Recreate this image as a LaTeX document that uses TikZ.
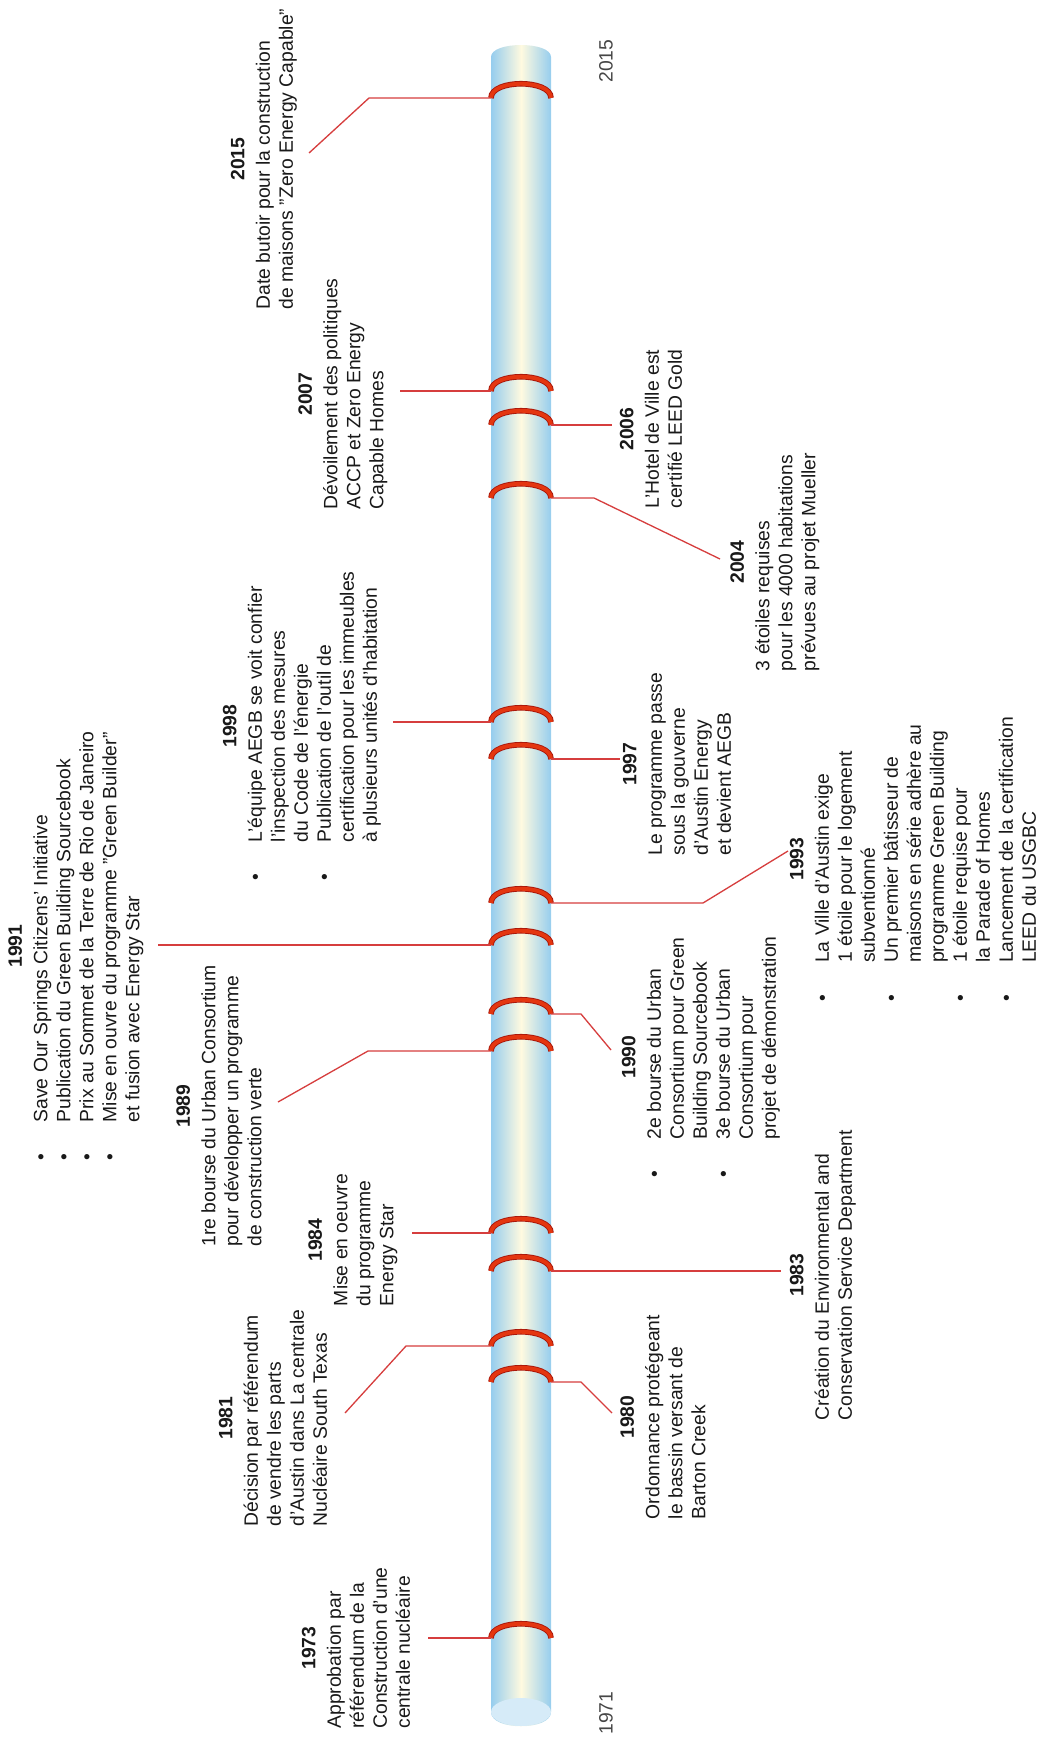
\documentclass[tikz,border=0pt]{standalone}
\usepackage{fontspec}
\setmainfont{Liberation Sans}

\definecolor{tube_edge}{RGB}{150,205,238}
\definecolor{tube_mid}{RGB}{255,250,224}
\definecolor{tube_end}{RGB}{214,235,248}
\definecolor{ring_red}{RGB}{228,54,16}
\definecolor{ring_dark}{RGB}{168,22,10}
\definecolor{link_red}{RGB}{214,62,62}
\definecolor{text_main}{RGB}{25,25,25}
\definecolor{label_grey}{RGB}{70,70,70}

\begin{document}
\begin{tikzpicture}[x=0.02cm, y=-0.02cm,
    event/.style={rotate=90, inner sep=0pt, text=text_main,
      font=\fontsize{11}{13.1}\selectfont},
    link/.style={draw=link_red, line width=0.75pt},
    ring/.style={draw=ring_dark, line width=0.5pt, double=ring_red,
      double distance=2.2pt}]
    \useasboundingbox (0,0) rectangle (1047,1737);

    \coordinate (r2015) at (491,98);
    \coordinate (r2007) at (491,391);
    \coordinate (r2006) at (551,425);
    \coordinate (r2004) at (551,498);
    \coordinate (r1998) at (491,722);
    \coordinate (r1997) at (551,759);
    \coordinate (r1993) at (551,903);
    \coordinate (r1991) at (491,945);
    \coordinate (r1990) at (551,1014);
    \coordinate (r1989) at (491,1051);
    \coordinate (r1984) at (491,1233);
    \coordinate (r1983) at (551,1271);
    \coordinate (r1981) at (491,1346);
    \coordinate (r1980) at (551,1382);
    \coordinate (r1973) at (491,1638);

    \coordinate (e2015) at (309,153);
    \coordinate (e2007) at (400,391);
    \coordinate (e2006) at (612,425);
    \coordinate (e2004) at (720,559);
    \coordinate (e1998) at (393,722);
    \coordinate (e1997) at (620,759);
    \coordinate (e1993) at (788,851);
    \coordinate (e1991) at (158,945);
    \coordinate (e1990) at (611,1050);
    \coordinate (e1989) at (278,1102);
    \coordinate (e1984) at (412,1233);
    \coordinate (e1983) at (781,1271);
    \coordinate (e1981) at (345,1413);
    \coordinate (e1980) at (612,1413);
    \coordinate (e1973) at (428,1638);

    \shade[left color=tube_edge, right color=tube_edge, middle color=tube_mid]
      (491,1712) -- (491,57) .. controls (491,41) and (551,41) .. (551,57)
      -- (551,1712) .. controls (551,1731) and (491,1731) .. cycle;
    \fill[tube_end] (521,1712) ellipse [x radius=30, y radius=14];

    \foreach \y in {98,391,425,498,722,759,903,945,1014,1051,1233,1271,1346,1382,1638}
      \draw[ring] (491,\y) .. controls (491,\y-19) and (551,\y-19) .. (551,\y);

    \draw[link] (r2015) -- ++(-122,0) -- (e2015);
    \draw[link] (r2007) -- (e2007);
    \draw[link] (r2006) -- (e2006);
    \draw[link] (r2004) -- ++(43,0) -- (e2004);
    \draw[link] (r1998) -- (e1998);
    \draw[link] (r1997) -- (e1997);
    \draw[link] (r1993) -- ++(152,0) -- (e1993);
    \draw[link] (r1991) -- (e1991);
    \draw[link] (r1990) -- ++(30,0) -- (e1990);
    \draw[link] (r1989) -- ++(-123,0) -- (e1989);
    \draw[link] (r1984) -- (e1984);
    \draw[link] (r1983) -- (e1983);
    \draw[link] (r1981) -- ++(-85,0) -- (e1981);
    \draw[link] (r1980) -- ++(30,0) -- (e1980);
    \draw[link] (r1973) -- (e1973);

    \node[event, text=label_grey] (y2015) at (606,61) {2015};
    \node[event, text=label_grey] (y1971) at (606,1713) {1971};

    \node[event] (t2015) at (264,159)
      {\begin{tabular}{@{}l@{}}\multicolumn{1}{@{}c@{}}{\bfseries 2015}\\[1.4pt]
        Date butoir pour la construction\\
        de maisons "Zero Energy Capable"\end{tabular}};
    \node[event] (t2007) at (343,394)
      {\begin{tabular}{@{}l@{}}\multicolumn{1}{@{}c@{}}{\bfseries 2007}\\[1.4pt]
        Dévoilement des politiques\\
        ACCP et Zero Energy\\
        Capable Homes\end{tabular}};
    \node[event] (t2006) at (653,429)
      {\begin{tabular}{@{}l@{}}\multicolumn{1}{@{}c@{}}{\bfseries 2006}\\[1.4pt]
        L'Hotel de Ville est\\
        certifié LEED Gold\end{tabular}};
    \node[event] (t2004) at (775,562)
      {\begin{tabular}{@{}l@{}}\multicolumn{1}{@{}c@{}}{\bfseries 2004}\\[1.4pt]
        3 étoiles requises\\
        pour les 4000 habitations\\
        prévues au projet Mueller\end{tabular}};
    \node[event] (t1998) at (302,726)
      {\begin{tabular}{@{}l@{\hspace{18pt}}l@{}}\multicolumn{2}{@{}c@{}}{\bfseries 1998}\\[1.4pt]
        \textbullet & L'équipe AEGB se voit confier\\
        & l'inspection des mesures\\
        & du Code de l'énergie\\
        \textbullet & Publication de l'outil de\\
        & certification pour les immeubles\\
        & à plusieurs unités d'habitation\end{tabular}};
    \node[event] (t1997) at (679,764)
      {\begin{tabular}{@{}l@{}}\multicolumn{1}{@{}c@{}}{\bfseries 1997}\\[1.4pt]
        Le programme passe\\
        sous la gouverne\\
        d'Austin Energy\\
        et devient AEGB\end{tabular}};
    \node[event] (t1993) at (915,859)
      {\begin{tabular}{@{}l@{\hspace{18pt}}l@{}}\multicolumn{2}{@{}c@{}}{\bfseries 1993}\\[1.4pt]
        \textbullet & La Ville d'Austin exige\\
        & 1 étoile pour le logement\\
        & subventionné\\
        \textbullet & Un premier bâtisseur de\\
        & maisons en série adhère au\\
        & programme Green Building\\
        \textbullet & 1 étoile requise pour\\
        & la Parade of Homes\\
        \textbullet & Lancement de la certification\\
        & LEED du USGBC\end{tabular}};
    \node[event] (t1991) at (76,946)
      {\begin{tabular}{@{}l@{\hspace{18pt}}l@{}}\multicolumn{2}{@{}c@{}}{\bfseries 1991}\\[1.4pt]
        \textbullet & Save Our Springs Citizens' Initiative\\
        \textbullet & Publication du Green Building Sourcebook\\
        \textbullet & Prix au Sommet de la Terre de Rio de Janeiro\\
        \textbullet & Mise en ouvre du programme "Green Builder"\\
        & et fusion avec Energy Star\end{tabular}};
    \node[event] (t1990) at (701,1057)
      {\begin{tabular}{@{}l@{\hspace{18pt}}l@{}}\multicolumn{2}{@{}c@{}}{\bfseries 1990}\\[1.4pt]
        \textbullet & 2e bourse du Urban\\
        & Consortium pour Green\\
        & Building Sourcebook\\
        \textbullet & 3e bourse du Urban\\
        & Consortium pour\\
        & projet de démonstration\end{tabular}};
    \node[event] (t1989) at (221,1106)
      {\begin{tabular}{@{}l@{}}\multicolumn{1}{@{}c@{}}{\bfseries 1989}\\[1.4pt]
        1re bourse du Urban Consortium\\
        pour développer un programme\\
        de construction verte\end{tabular}};
    \node[event] (t1984) at (353,1240)
      {\begin{tabular}{@{}l@{}}\multicolumn{1}{@{}c@{}}{\bfseries 1984}\\[1.4pt]
        Mise en oeuvre\\
        du programme\\
        Energy Star\end{tabular}};
    \node[event] (t1983) at (823,1275)
      {\begin{tabular}{@{}l@{}}\multicolumn{1}{@{}c@{}}{\bfseries 1983}\\[1.4pt]
        Création du Environmental and\\
        Conservation Service Department\end{tabular}};
    \node[event] (t1981) at (275,1418)
      {\begin{tabular}{@{}l@{}}\multicolumn{1}{@{}c@{}}{\bfseries 1981}\\[1.4pt]
        Décision par référendum\\
        de vendre les parts\\
        d'Austin dans La centrale\\
        Nucléaire South Texas\end{tabular}};
    \node[event] (t1980) at (665,1417)
      {\begin{tabular}{@{}l@{}}\multicolumn{1}{@{}c@{}}{\bfseries 1980}\\[1.4pt]
        Ordonnance protégeant\\
        le bassin versant de\\
        Barton Creek\end{tabular}};
    \node[event] (t1973) at (358,1648)
      {\begin{tabular}{@{}l@{}}\multicolumn{1}{@{}c@{}}{\bfseries 1973}\\[1.4pt]
        Approbation par\\
        référendum de la\\
        Construction d'une\\
        centrale nucléaire\end{tabular}};
  \end{tikzpicture}
\end{document}
